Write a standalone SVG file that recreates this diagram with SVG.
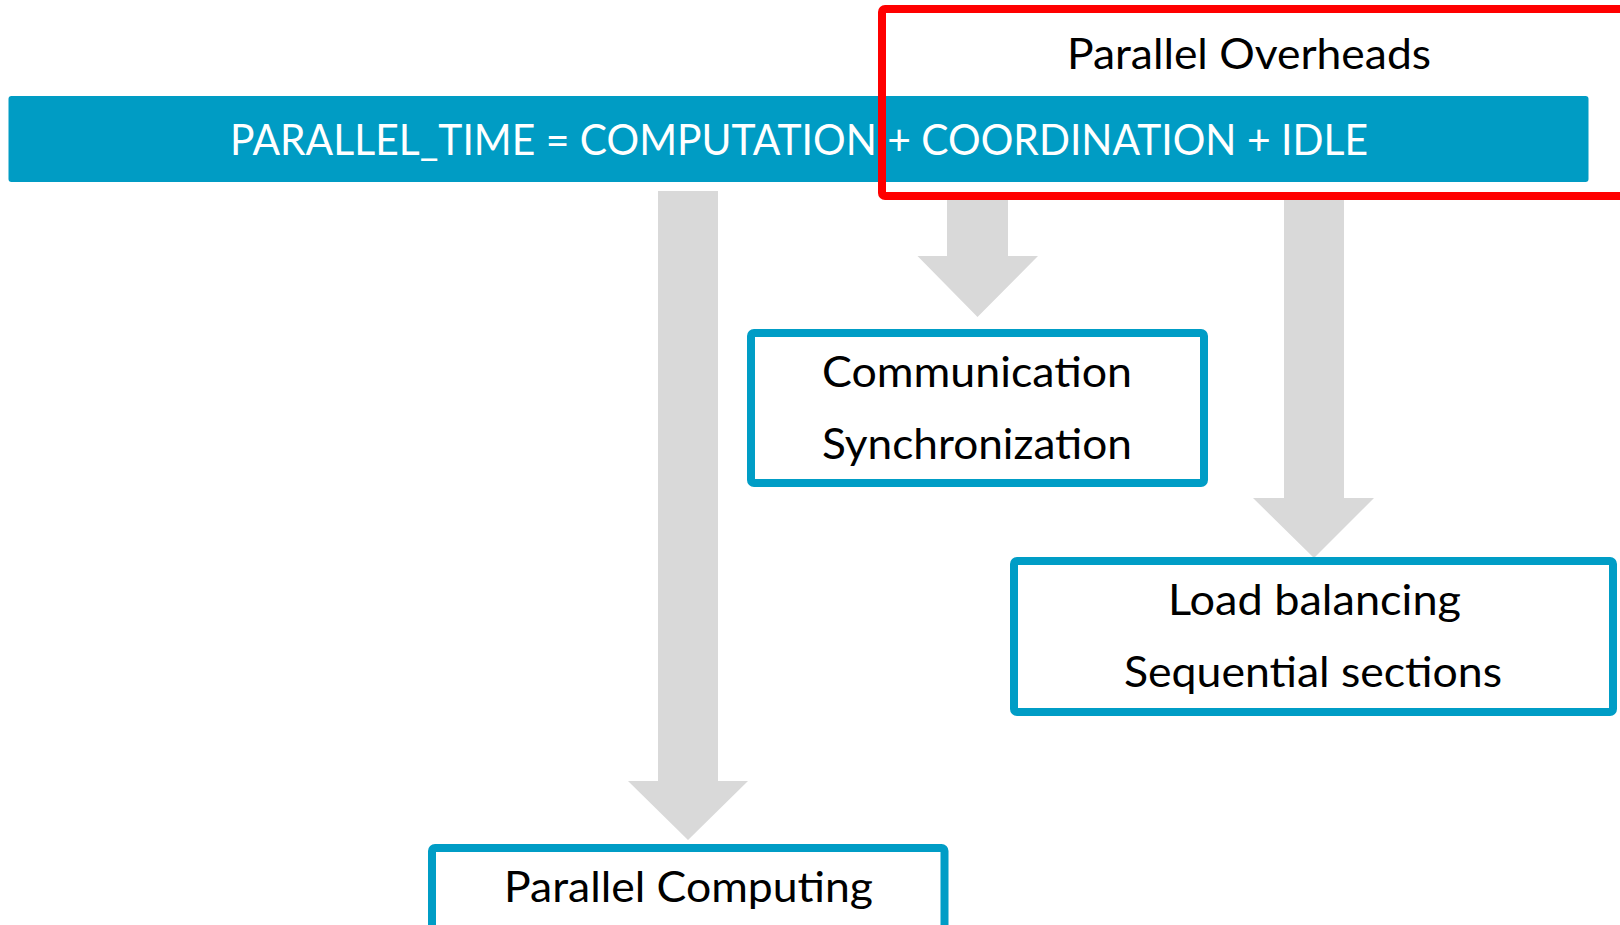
<svg xmlns="http://www.w3.org/2000/svg" width="1620" height="925" viewBox="0 0 1620 925">
<style>
.t{font-family:Lato,"Open Sans","Liberation Sans",sans-serif;font-size:42px;fill:#000}
.w{fill:#fff}
.box{fill:#fff;stroke:#009DC6;stroke-width:8}
.arr{fill:#D9D9D9}
</style>
<rect width="1620" height="925" fill="#fff"/>
<g id="connectors">
<polygon class="arr" points="658,191 718,191 718,781 748,781 688,840 628,781 658,781"/>
<polygon class="arr" points="947,198 1008,198 1008,256 1038,256 977.5,317 917.5,256 947,256"/>
<polygon class="arr" points="1284,198 1344,198 1344,498 1374,498 1314,558 1253,498 1284,498"/>
</g>
<g id="title">
<rect x="8.5" y="96" width="1580" height="86" rx="3" fill="#009CC4"/>
<text class="t w" x="230" y="155" textLength="1138" lengthAdjust="spacingAndGlyphs">PARALLEL_TIME = COMPUTATION + COORDINATION + IDLE</text>
</g>
<g id="comm">
<rect class="box" x="751" y="333" width="453" height="150" rx="3"/>
<text class="t" x="822" y="387" textLength="310" lengthAdjust="spacingAndGlyphs">Communication</text>
<text class="t" x="822" y="459" textLength="310" lengthAdjust="spacingAndGlyphs">Synchronization</text>
</g>
<g id="load">
<rect class="box" x="1014" y="561" width="599" height="151" rx="3"/>
<text class="t" x="1168" y="615" textLength="293" lengthAdjust="spacingAndGlyphs">Load balancing</text>
<text class="t" x="1124" y="687" textLength="378" lengthAdjust="spacingAndGlyphs">Sequential sections</text>
</g>
<g id="pc">
<rect class="box" x="432" y="848" width="512.5" height="100" rx="3"/>
<text class="t" x="504" y="902" textLength="369" lengthAdjust="spacingAndGlyphs">Parallel Computing</text>
</g>
<g id="overheads">
<rect x="882" y="9" width="800" height="187" rx="3" fill="none" stroke="#FF0000" stroke-width="8"/>
<text class="t" x="1067" y="69" textLength="364" lengthAdjust="spacingAndGlyphs">Parallel Overheads</text>
</g>
</svg>
